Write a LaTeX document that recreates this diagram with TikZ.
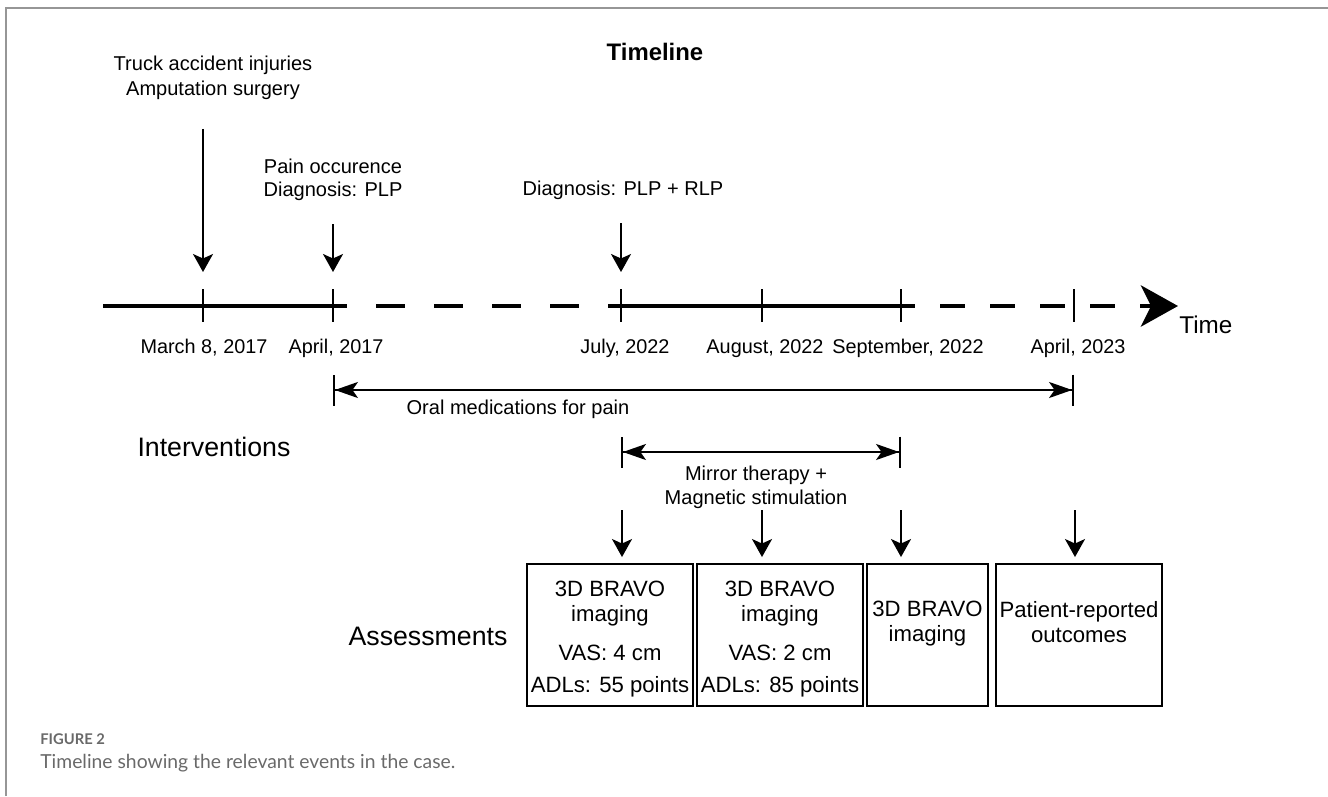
\documentclass[tikz,border=0pt]{standalone}
\usepackage{fontspec}
\setmainfont{Liberation Sans}
\newfontfamily\capfont{Lato}
\usepackage{tikz}
\usetikzlibrary{arrows.meta, positioning}
\definecolor{framegray}{RGB}{150,150,150}
\definecolor{capgray}{RGB}{105,105,105}
\tikzset{
    lbl/.style={inner sep=0pt, align=center, font=\fontsize{11.4}{13.1}\selectfont},
    datelbl/.style={inner sep=0pt, anchor=base, font=\fontsize{11.3}{13}\selectfont},
    biglbl/.style={inner sep=0pt, anchor=base, font=\fontsize{15.2}{18}\selectfont},
    abox/.style={draw, line width=1.1pt, minimum height=2.84cm, inner sep=0pt},
    boxtxt/.style={inner sep=0pt, align=center, font=\fontsize{12.6}{14}\selectfont},
    darr/.style={line width=1.1pt, -{Stealth[length=3.6mm, width=4mm, inset=0.9mm]}},
    spanarr/.style={line width=1.1pt, {Bar[width=6.2mm]Stealth[length=4.6mm, width=3.2mm, inset=1.1mm]}-{Stealth[length=4.6mm, width=3.2mm, inset=1.1mm]Bar[width=6.2mm]}},
    axisl/.style={line width=2.6pt},
    tickmark/.style={line width=1.1pt},
}

\begin{document}
\begin{tikzpicture}
    \useasboundingbox (0,0) rectangle (26.56,15.92);
    \draw[framegray, line width=1.2pt] (0.12,0) -- (0.12,15.76) -- (26.56,15.76);

    \node[inner sep=0pt, font=\fontsize{13.6}{16}\selectfont\bfseries] (title) at (13.1,14.88) {Timeline};

    % events above the axis
    \node[lbl] (ev1) at (4.26,14.36) {Truck accident injuries\\[1.1pt]Amputation surgery};
    \node[lbl] (ev2) at (6.66,12.33) {Pain occurence\\Diagnosis: PLP};
    \node[lbl] (ev3) at (12.46,12.12) {Diagnosis: PLP + RLP};
    \coordinate (in1) at (4.06,13.34);
    \coordinate (in2) at (6.66,11.44);
    \coordinate (in3) at (12.42,11.46);
    \coordinate (out1) at (4.06,10.48);
    \coordinate (out2) at (6.66,10.48);
    \coordinate (out3) at (12.42,10.48);
    \draw[darr] (in1) -- (out1);
    \draw[darr] (in2) -- (out2);
    \draw[darr] (in3) -- (out3);

    % time axis
    \coordinate (a0) at (2.06,9.8);
    \coordinate (s1) at (6.94,9.8);
    \coordinate (s2) at (12.2,9.8);
    \coordinate (s3) at (18.3,9.8);
    \coordinate (tip) at (23.56,9.8);
    \draw[axisl] (a0) -- (s1);
    \draw[axisl, dash pattern=on 0.58cm off 0.58cm, dash phase=0.58cm] (s1) -- (s2);
    \draw[axisl] (s2) -- (s3);
    \draw[axisl, dash pattern=on 0.5cm off 0.5cm, dash phase=0.5cm,
        -{Stealth[length=7.4mm, width=8.2mm, inset=2mm]}] (s3) -- (tip);
    \foreach \x/\n in {4.06/1, 6.66/2, 12.42/3, 15.24/4, 18.02/5, 21.48/6}{
        \coordinate (tk\n) at (\x,9.8);
        \draw[tickmark] (\x,10.14) -- (\x,9.48);
    }
    \node[inner sep=0pt, anchor=west, font=\fontsize{13.8}{16}\selectfont] (time) at (23.58,9.42) {Time};

    \node[datelbl] (d1) at (4.08,8.86) {March 8, 2017};
    \node[datelbl] (d2) at (6.72,8.86) {April, 2017};
    \node[datelbl] (d3) at (12.5,8.86) {July, 2022};
    \node[datelbl] (d4) at (15.3,8.86) {August, 2022};
    \node[datelbl] (d5) at (18.16,8.86) {September, 2022};
    \node[datelbl] (d6) at (21.56,8.86) {April, 2023};

    % interventions
    \node[biglbl] (intv) at (4.28,6.79) {Interventions};
    \coordinate (om1) at (6.66,8.12);
    \coordinate (om2) at (21.48,8.12);
    \draw[spanarr] (om1) -- (om2);
    \node[lbl] (oral) at (10.36,7.74) {Oral medications for pain};
    \coordinate (mt1) at (12.42,6.88);
    \coordinate (mt2) at (18.02,6.88);
    \draw[spanarr] (mt1) -- (mt2);
    \node[lbl, font=\fontsize{11.4}{13.7}\selectfont] (mirror) at (15.12,6.18) {Mirror therapy +\\Magnetic stimulation};

    % assessments
    \node[biglbl] (asmt) at (8.56,3.01) {Assessments};
    \node[abox, minimum width=3.32cm] (b1) at (12.2,3.22) {};
    \node[abox, minimum width=3.32cm] (b2) at (15.6,3.22) {};
    \node[abox, minimum width=2.42cm] (b3) at (18.55,3.22) {};
    \node[abox, minimum width=3.32cm] (b4) at (21.58,3.22) {};
    \node[boxtxt, below=0.36cm of b1.north] (t1) {3D BRAVO\\imaging\\[8.4pt]VAS: 4 cm\\[4.2pt]ADLs: 55 points};
    \node[boxtxt, below=0.36cm of b2.north] (t2) {3D BRAVO\\imaging\\[8.4pt]VAS: 2 cm\\[4.2pt]ADLs: 85 points};
    \node[boxtxt, below=0.76cm of b3.north] (t3) {3D BRAVO\\imaging};
    \node[boxtxt, below=0.76cm of b4.north] (t4) {Patient-reported\\outcomes};
    \coordinate (ca1) at (12.44,5.72);
    \coordinate (ca2) at (15.24,5.72);
    \coordinate (ca3) at (18.02,5.72);
    \coordinate (ca4) at (21.5,5.72);
    \draw[darr, shorten >=0.12cm] (ca1) -- (ca1 |- b1.north);
    \draw[darr, shorten >=0.12cm] (ca2) -- (ca2 |- b2.north);
    \draw[darr, shorten >=0.12cm] (ca3) -- (ca3 |- b3.north);
    \draw[darr, shorten >=0.12cm] (ca4) -- (ca4 |- b4.north);

    % caption
    \node[anchor=base west, inner sep=0pt, text=capgray, font=\capfont\bfseries\fontsize{8.4}{10}\selectfont] (fig) at (0.8,1.04) {FIGURE 2};
    \node[anchor=base west, inner sep=0pt, text=capgray, font=\capfont\fontsize{11}{13}\selectfont] (cap) at (0.8,0.56) {Timeline showing the relevant events in the case.};
\end{tikzpicture}
\end{document}
